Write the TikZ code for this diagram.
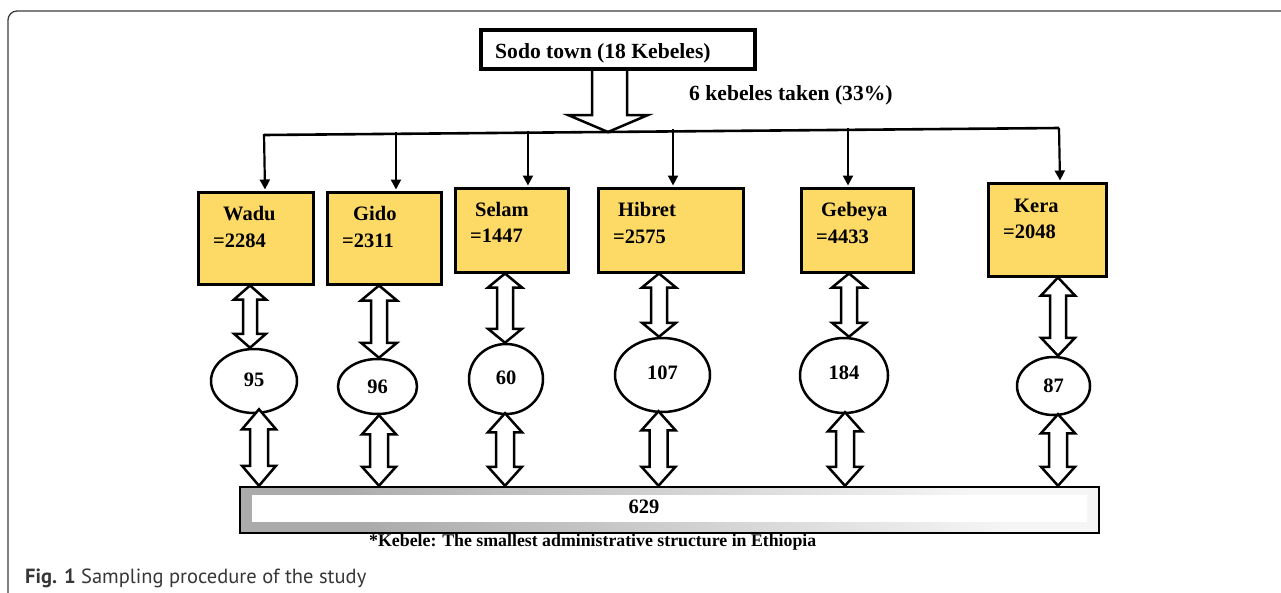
\documentclass[tikz,border=0pt]{standalone}
\usepackage{fontspec}
\setmainfont{Liberation Serif}
\newfontfamily\capfont{PT Sans}
\usetikzlibrary{shapes.geometric,arrows.meta,calc}
\definecolor{kyellow}{RGB}{253,217,102}
\definecolor{framegray}{RGB}{60,60,60}
\definecolor{capgray}{RGB}{55,55,55}
\tikzset{
  kbox/.style={draw=black, line width=3pt, fill=kyellow, inner sep=0pt},
  ktext/.style={anchor=base west, inner sep=0pt, font=\fontsize{20.5}{24}\selectfont\bfseries},
  kell/.style={draw=black, line width=2.5pt, fill=white, ellipse, inner sep=0pt, font=\fontsize{20.5}{24}\selectfont\bfseries},
  hollow/.style={draw=black, line width=2.5pt, fill=white, line join=miter},
  thinarr/.style={draw=black, line width=2.2pt, -{Triangle[width=10pt,length=10pt]}},
}
\newcommand\dblarr[5]{%
  \draw[hollow] let \p1=#1, \p2=#2 in
   (\x1,\y1) -- (\x1+#4pt,\y1-#5pt) -- (\x1+#3pt,\y1-#5pt) -- (\x1+#3pt,\y2+#5pt)
   -- (\x1+#4pt,\y2+#5pt) -- (\x1,\y2) -- (\x1-#4pt,\y2+#5pt) -- (\x1-#3pt,\y2+#5pt)
   -- (\x1-#3pt,\y1-#5pt) -- (\x1-#4pt,\y1-#5pt) -- cycle;}
\begin{document}
\begin{tikzpicture}[x=1pt,y=-1pt]
\useasboundingbox (0,0) rectangle (1281,592);
\fill[white] (0,0) rectangle (1281,592);
% outer frame
\draw[framegray, line width=1.3pt, rounded corners=9pt] (8,600) -- (8,11) -- (1295,11);

% top box
\node[draw=black, line width=4pt, fill=white, minimum width=274pt, minimum height=39pt, inner sep=0pt] (sodo) at (618,49.5) {};
\node[anchor=base west, inner sep=0pt, font=\fontsize{21.6}{25}\selectfont\bfseries] (sodot) at (495,58) {Sodo town (18 Kebeles)};

% big down arrow
\draw[hollow] (sodo.south -| 592,0) -- (592,115) -- (568,115) -- (608,132) -- (648,115) -- (627,115) -- (sodo.south -| 627,0);

\node[anchor=base west, inner sep=0pt, font=\fontsize{21.6}{25}\selectfont\bfseries] (taken) at (689,100) {6 kebeles taken (33\%)};

% kebele boxes
\node[kbox, minimum width=115pt, minimum height=92pt] (wadu) at (255.5,238) {};
\node[kbox, minimum width=114pt, minimum height=92pt] (gido) at (384,238) {};
\node[kbox, minimum width=113pt, minimum height=84pt] (selam) at (511.5,230) {};
\node[kbox, minimum width=145pt, minimum height=84pt] (hibret) at (670.5,230) {};
\node[kbox, minimum width=112pt, minimum height=84pt] (gebeya) at (857,230) {};
\node[kbox, minimum width=118pt, minimum height=93pt] (kera) at (1047,229.5) {};

\node[ktext] (t1a) at (223,220) {Wadu};
\node[ktext] (t1b) at (213,247) {=2284};
\node[ktext] (t2a) at (353,220) {Gido};
\node[ktext] (t2b) at (342,247) {=2311};
\node[ktext] (t3a) at (475,216) {Selam};
\node[ktext] (t3b) at (470,242) {=1447};
\node[ktext] (t4a) at (618,216) {Hibret};
\node[ktext] (t4b) at (613,243) {=2575};
\node[ktext] (t5a) at (821,216) {Gebeya};
\node[ktext] (t5b) at (816,243) {=4433};
\node[ktext] (t6a) at (1014,212) {Kera};
\node[ktext] (t6b) at (1003,238) {=2048};

% distribution line
\coordinate (bl) at (264,135);
\coordinate (br) at (1059,128);
\draw[line width=2.6pt] (bl) -- (br);
\coordinate (b2) at ($(bl)!0.166!(br)$);
\coordinate (b3) at ($(bl)!0.332!(br)$);
\coordinate (b4) at ($(bl)!0.5145!(br)$);
\coordinate (b5) at ($(bl)!0.7346!(br)$);
\draw[thinarr] ($(bl)+(0,-1)$) -- ($(bl |- wadu.north)+(1,-1)$);
\draw[thinarr] ($(b2)+(0,-2)$) -- ($(b2 |- gido.north)+(0,-1)$);
\draw[thinarr] ($(b3)+(0,-2)$) -- ($(b3 |- selam.north)+(0,-1)$);
\draw[thinarr] ($(b4)+(0,-2)$) -- ($(b4 |- hibret.north)+(0,-1)$);
\draw[thinarr] ($(b5)+(0,-2)$) -- ($(b5 |- gebeya.north)+(0,-1)$);
\draw[thinarr] ($(br)+(0,0)$) -- ($(br |- kera.north)+(1,-1)$);

% ellipses
\node[kell, minimum width=86pt, minimum height=64pt] (e95) at (254,381) {\raisebox{2pt}{95}};
\node[kell, minimum width=79pt, minimum height=55pt] (e96) at (377.5,386.5) {\raisebox{-2.5pt}{96}};
\node[kell, minimum width=74pt, minimum height=70pt] (e60) at (506,379) {\raisebox{3.5pt}{60}};
\node[kell, minimum width=95pt, minimum height=74pt] (e107) at (662.5,375) {\raisebox{4.5pt}{107}};
\node[kell, minimum width=88pt, minimum height=75pt] (e184) at (844,375.5) {\raisebox{5pt}{184}};
\node[kell, minimum width=73pt, minimum height=58pt] (e87) at (1053.5,386) {\raisebox{0.5pt}{87}};

% bottom bar
\shade[top color=gray!8, bottom color=gray!66, shading angle=-45] (240,487) rectangle (1099,533);
\node[draw=black, line width=2.5pt, minimum width=859pt, minimum height=46pt, inner sep=0pt] (bar) at (669.5,510) {};
\fill[white] (252,495) rectangle (1087,522);
\node[anchor=base, inner sep=0pt, font=\fontsize{20.5}{24}\selectfont\bfseries] (t629) at (644,513) {629};

% upper double arrows
\dblarr{($(wadu.south)+(-5.5,0)$)}{(e95.north)}{7}{16}{14}
\dblarr{($(gido.south)+(-5,0)$)}{(e96.north)}{8}{18}{15}
\dblarr{($(selam.south)+(-6.5,0)$)}{(e60.north)}{8}{17}{14}
\dblarr{($(hibret.south)+(-11.5,0)$)}{(e107.north)}{8}{17}{14}
\dblarr{($(gebeya.south)+(-8,0)$)}{(e184.north)}{8}{17}{14}
\dblarr{($(kera.south)+(11,0)$)}{(e87.north)}{8}{17}{18}
% lower double arrows
\dblarr{($(e95.south)+(5,-5)$)}{(bar.north)}{9}{17}{20}
\dblarr{($(e96.south)+(1.5,0)$)}{(bar.north)}{9}{17}{19}
\dblarr{($(e60.south)+(-1,-2)$)}{(bar.north)}{9}{17}{19}
\dblarr{($(e107.south)+(-4,-2)$)}{(bar.north)}{9}{17}{19}
\dblarr{($(e184.south)+(1,-2)$)}{(bar.north)}{9}{17}{19}
\dblarr{($(e87.south)+(4.5,-2)$)}{(bar.north)}{9}{17}{19}

% footnote
\node[anchor=base west, inner sep=0pt, font=\fontsize{17.8}{21}\selectfont\bfseries] (foot) at (369,546) {*Kebele: The smallest administrative structure in Ethiopia};

% caption
\node[anchor=base west, inner sep=0pt, text=capgray, font=\fontsize{20.5}{24}\capfont] (cap) at (25,583) {\textbf{Fig. 1} Sampling procedure of the study};
\end{tikzpicture}
\end{document}
